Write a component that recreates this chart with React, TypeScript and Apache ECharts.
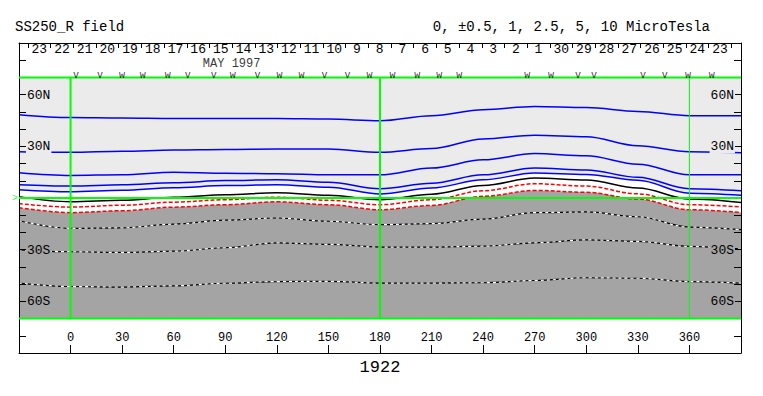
import React, { useEffect, useRef } from "react";
import * as echarts from "echarts";

// Longitude sample grid (deg) for the contour lines
const LON = [-30, 0, 30, 60, 90, 120, 150, 180, 210, 240, 270, 300, 330, 360, 390];

// Contour latitudes (deg) at each LON sample
const POS_10 = [48.4, 46.7, 46.4, 46.1, 46.1, 46.1, 45.8, 44.9, 47.8, 51.3, 53.1, 52.5, 50.2, 47.8, 47.8];
const POS_5 = [26.9, 26.5, 27.2, 27.8, 28.1, 28.4, 28.4, 26.5, 28.7, 34.2, 36.5, 35.6, 30.4, 26.9, 26.3];
const POS_2_5 = [14.7, 13.1, 13.5, 15.0, 14.4, 14.1, 13.5, 13.5, 17.4, 22.2, 25.8, 24.5, 19.6, 13.5, 13.5];
const POS_1 = [7.7, 6.9, 7.7, 8.9, 10.1, 10.6, 9.2, 5.4, 8.6, 13.5, 17.4, 16.3, 12.0, 5.4, 4.2];
const POS_0_5 = [4.8, 3.6, 4.5, 6.0, 7.2, 7.7, 6.3, 2.3, 5.8, 10.6, 14.5, 13.7, 10.3, 2.8, 1.6];
const ZERO = [0.8, -2.2, -1.3, 0.5, 1.9, 3.1, 1.6, -1.0, 2.2, 7.3, 11.6, 10.4, 5.8, -0.6, -2.6];
const NEG_0_5 = [-3.3, -5.3, -4.2, -2.4, -1.0, 0.5, -1.3, -3.9, -1.0, 4.2, 8.3, 6.9, 2.4, -3.9, -5.2];
const NEG_1 = [-5.6, -8.5, -7.4, -5.3, -3.9, -2.2, -3.9, -6.8, -4.3, 1.0, 4.4, 3.3, -0.6, -6.8, -8.4];
const NEG_2_5 = [-13.2, -17.6, -17.3, -15.2, -12.9, -11.6, -13.5, -15.5, -14.9, -12.3, -8.5, -8.1, -10.9, -16.9, -18.4];
const NEG_5 = [-30.1, -31.2, -31.6, -30.9, -28.9, -26.0, -26.9, -28.5, -28.5, -28.0, -26.0, -24.3, -25.2, -28.1, -29.7];
const NEG_10 = [-49.4, -51.4, -51.7, -51.0, -49.5, -48.5, -48.4, -49.4, -49.4, -49.2, -47.9, -46.3, -46.6, -48.5, -49.4];

// Day-of-month labels (Carrington rotation 1922, May 1997)
const DAY_LABELS = ["23", "22", "21", "20", "19", "18", "17", "16", "15", "14", "13", "12", "11", "10", "9", "8", "7", "6", "5", "4", "3", "2", "1", "30", "29", "28", "27", "26", "25", "24", "23"];
const DAY_START = -24.8;
const DAY_STEP = 13.2;

// Observation markers along the top band
const MARKER_LON = [3.1, 17.1, 29.9, 42.0, 56.6, 68.2, 83.3, 94.3, 108.8, 121.6, 134.4, 147.7, 161.1, 173.9, 187.2, 201.7, 214.5, 226.1, 265.6, 279.5, 295.2, 304.5, 333.0, 345.7, 359.1, 373.0];
const MARKER_TYPE = ["v", "v", "w", "w", "w", "v", "v", "w", "v", "w", "w", "v", "v", "w", "w", "w", "w", "w", "w", "w", "v", "v", "v", "v", "w", "w"];
const MARKER_LAT = 71.4;

const X_MIN = -30;
const X_MAX = 390;
const PLOT_LAT = 70;
const GREEN_MERIDIANS = [0, 180];
const THIN_MERIDIAN = 360;

const TITLE_LEFT = "SS250_R field";
const TITLE_RIGHT = "0, \u00b10.5, 1, 2.5, 5, 10 MicroTesla";
const ROTATION = "1922";
const MONTH = "MAY 1997";
const MONTH_POS = [93.7, 77.8];

const MONO = '"Liberation Mono", "DejaVu Sans Mono", monospace';

export default function App() {
  const ref = useRef<HTMLDivElement>(null);

  useEffect(() => {
    document.body.style.margin = "0";
    if (!ref.current) return;
    const chart = echarts.init(ref.current, undefined, { renderer: "svg" });

    const pts = (arr: number[]) => LON.map((x, i) => [x, arr[i]]);
    const SMOOTH = 0.35;

    const contour = (arr: number[], color: string, width: number, type: any, z = 3) => ({
      type: "line",
      data: pts(arr),
      smooth: SMOOTH,
      smoothMonotone: "x",
      symbol: "none",
      silent: true,
      z,
      lineStyle: { color, width, type },
    });

    const fill = (arr: number[], color: string) => ({
      type: "line",
      data: pts(arr),
      smooth: SMOOTH,
      smoothMonotone: "x",
      symbol: "none",
      silent: true,
      z: 2,
      lineStyle: { width: 0, opacity: 0 },
      areaStyle: { color, opacity: 1, origin: -PLOT_LAT },
    });

    const straight = (data: number[][], width: number) => ({
      type: "line",
      data,
      symbol: "none",
      silent: true,
      z: 6,
      lineStyle: { color: "#00ff00", width },
    });

    const dayTicks = Array.from({ length: DAY_LABELS.length + 1 }, (_, i) => DAY_START + DAY_STEP * i);
    const dayCenters = DAY_LABELS.map((_, i) => DAY_START + DAY_STEP * (i + 0.5));

    const latLabel = (v: number) => {
      if (v === 60) return "{n|60N}";
      if (v === 30) return "{n|30N}";
      if (v === -30) return "{s|30S}";
      if (v === -60) return "{s|60S}";
      return "";
    };
    const rich = {
      n: { backgroundColor: "#ebebeb", fontFamily: MONO, fontSize: 13, color: "#000", padding: [1, 1, 0, 1] },
      s: { backgroundColor: "#a4a4a4", fontFamily: MONO, fontSize: 13, color: "#000", padding: [1, 1, 0, 1] },
    };

    const yAxisBase = {
      type: "value",
      min: -90,
      max: 90,
      interval: 10,
      z: 5,
      splitLine: { show: false },
      axisLine: { show: true, onZero: false, lineStyle: { color: "#000", width: 1 } },
      axisTick: { show: true, inside: true, length: 7, lineStyle: { color: "#000" } },
    };

    const option: any = {
      animation: false,
      backgroundColor: "#ffffff",
      title: [
        { text: TITLE_LEFT, left: 15, top: 20, padding: 0, textStyle: { fontFamily: MONO, fontSize: 14, fontWeight: "normal", color: "#000" } },
        { text: TITLE_RIGHT, right: 53, top: 20, padding: 0, textStyle: { fontFamily: MONO, fontSize: 14, fontWeight: "normal", color: "#000" } },
      ],
      grid: { left: 19, right: 22, top: 43, bottom: 43, containLabel: false },
      xAxis: [
        {
          type: "value",
          position: "bottom",
          min: X_MIN,
          max: X_MAX,
          interval: 30,
          z: 5,
          splitLine: { show: false },
          axisLine: { show: true, onZero: false, lineStyle: { color: "#000", width: 1 } },
          axisTick: { show: true, inside: true, length: 8, lineStyle: { color: "#000" } },
          axisLabel: {
            inside: true,
            margin: 9,
            showMinLabel: false,
            showMaxLabel: false,
            fontFamily: MONO,
            fontSize: 12,
            color: "#000",
          },
          name: ROTATION,
          nameLocation: "middle",
          nameGap: 3,
          nameTextStyle: { fontFamily: MONO, fontSize: 17, color: "#000", verticalAlign: "top" },
        },
        {
          type: "value",
          position: "top",
          min: X_MIN,
          max: X_MAX,
          z: 5,
          splitLine: { show: false },
          axisLine: { show: true, onZero: false, lineStyle: { color: "#000", width: 1 } },
          axisTick: { show: true, inside: true, length: 5, customValues: dayTicks, lineStyle: { color: "#000" } },
          axisLabel: {
            inside: true,
            margin: 0,
            interval: 0,
            hideOverlap: false,
            customValues: dayCenters,
            fontFamily: MONO,
            fontSize: 13,
            color: "#000",
            formatter: (v: number) => {
              const i = Math.round((v - DAY_START) / DAY_STEP - 0.5);
              return DAY_LABELS[i] ?? "";
            },
          },
        },
      ],
      yAxis: [
        {
          ...yAxisBase,
          position: "left",
          axisLabel: { inside: true, margin: 7, interval: 0, formatter: latLabel, rich },
        },
        {
          ...yAxisBase,
          position: "right",
          axisLabel: { inside: true, margin: 6, interval: 0, formatter: latLabel, rich },
        },
      ],
      series: [
        // background fills
        {
          type: "line",
          data: [[X_MIN, PLOT_LAT], [X_MAX, PLOT_LAT]],
          symbol: "none",
          silent: true,
          z: 2,
          lineStyle: { width: 0, opacity: 0 },
          areaStyle: { color: "#ebebeb", opacity: 1, origin: -PLOT_LAT },
        },
        fill(POS_0_5, "#ffffff"),
        fill(NEG_1, "#a4a4a4"),
        // positive contours
        contour(POS_10, "#0000ff", 1.5, "solid"),
        contour(POS_5, "#0000ff", 1.5, "solid"),
        contour(POS_2_5, "#0000ff", 1.5, "solid"),
        contour(POS_1, "#0000ff", 1.5, "solid"),
        contour(POS_0_5, "#0000ff", 1.5, "solid"),
        // neutral line
        contour(ZERO, "#000000", 1.5, "solid"),
        // negative contours
        contour(NEG_0_5, "#ff0000", 1.5, [4, 2]),
        contour(NEG_1, "#ff0000", 1.5, [4, 2]),
        contour(NEG_2_5, "#000000", 1.2, "solid"),
        contour(NEG_2_5, "#ffffff", 1.2, [3, 3], 4),
        contour(NEG_5, "#000000", 1.2, "solid"),
        contour(NEG_5, "#ffffff", 1.2, [3, 3], 4),
        contour(NEG_10, "#000000", 1.2, "solid"),
        contour(NEG_10, "#ffffff", 1.2, [3, 3], 4),
        // green reference lines
        straight([[X_MIN, PLOT_LAT], [X_MAX, PLOT_LAT]], 2),
        straight([[X_MIN, -PLOT_LAT], [X_MAX, -PLOT_LAT]], 2),
        straight([[X_MIN, 0], [X_MAX, 0]], 2),
        ...GREEN_MERIDIANS.map((m) => straight([[m, -PLOT_LAT], [m, PLOT_LAT]], 2)),
        straight([[THIN_MERIDIAN, -PLOT_LAT], [THIN_MERIDIAN, PLOT_LAT]], 1),
        // equator marker at left edge
        {
          type: "scatter",
          data: [[X_MIN, 0]],
          symbolSize: 0,
          silent: true,
          clip: false,
          z: 7,
          label: { show: true, formatter: ">", position: "left", distance: 1, color: "#00ff00", fontFamily: MONO, fontSize: 10 },
        },
        // observation markers
        {
          type: "scatter",
          data: MARKER_LON.map((x, i) => ({ value: [x, MARKER_LAT], name: MARKER_TYPE[i] })),
          symbolSize: 0,
          silent: true,
          clip: false,
          z: 7,
          label: { show: true, formatter: (p: any) => p.name, position: "inside", color: "#000", fontFamily: MONO, fontSize: 10 },
        },
        // month label
        {
          type: "scatter",
          data: [{ value: MONTH_POS, name: MONTH }],
          symbolSize: 0,
          silent: true,
          clip: false,
          z: 7,
          label: { show: true, formatter: (p: any) => p.name, position: "inside", color: "#000", fontFamily: MONO, fontSize: 12 },
        },
      ],
    };

    chart.setOption(option);
    return () => chart.dispose();
  }, []);

  return <div ref={ref} style={{ width: 763, height: 396 }} />;
}
